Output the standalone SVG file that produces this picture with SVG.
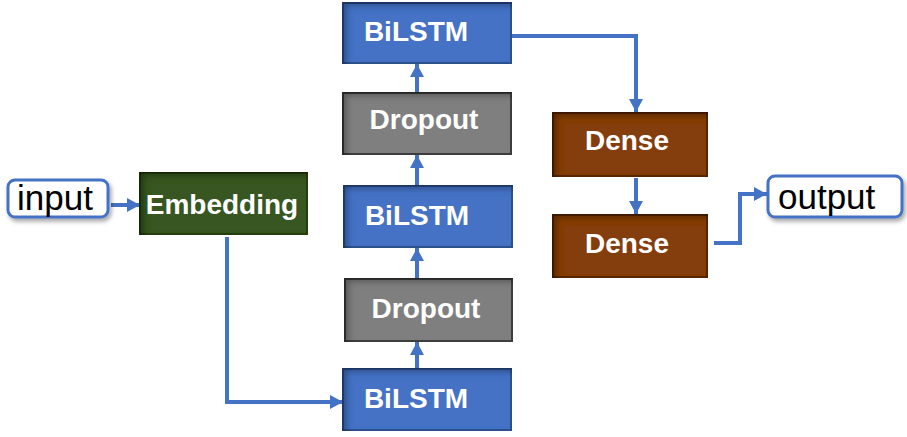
<svg xmlns="http://www.w3.org/2000/svg" width="907" height="437" viewBox="0 0 907 437">
<style>
.lbl{font-family:"Liberation Sans",Arial,sans-serif;font-weight:bold;font-size:28px;fill:#fff;text-anchor:middle}
.io{font-family:"Liberation Sans",Arial,sans-serif;font-size:35px;fill:#000}
.iobox{fill:#fff;stroke:#4472C4;stroke-width:3}
.blue{fill:#4472C4;stroke:#2F528F;stroke-width:2}
.gray{fill:#7F7F7F;stroke:#404040;stroke-width:2}
.brown{fill:#843C0C;stroke:#5A2A08;stroke-width:2}
.green{fill:#375623;stroke:#2A4019;stroke-width:2}
.conn path{fill:none;stroke:#4472C4;stroke-width:4}
</style>
<defs>
<filter id="inset" x="-5%" y="-5%" width="110%" height="110%">
<feGaussianBlur in="SourceAlpha" stdDeviation="3" result="blur"/>
<feOffset in="blur" dx="5" dy="4" result="off"/>
<feComposite in="SourceAlpha" in2="off" operator="out" result="inv"/>
<feFlood flood-color="#000" flood-opacity="0.55"/>
<feComposite in2="inv" operator="in" result="shadow"/>
<feMerge><feMergeNode in="SourceGraphic"/><feMergeNode in="shadow"/></feMerge>
</filter>
<filter id="drop" x="-10%" y="-20%" width="125%" height="150%">
<feDropShadow dx="2" dy="3" stdDeviation="2" flood-color="#000" flood-opacity="0.35"/>
</filter>
<marker id="arr" markerUnits="userSpaceOnUse" markerWidth="14" markerHeight="14" refX="13" refY="7" orient="auto">
<path d="M0,0 L13,7 L0,14 z" fill="#4472C4"/>
</marker>
</defs>
<g class="conn">
<path d="M111,205 H140" marker-end="url(#arr)"/>
<path d="M227,237 V402 H343" marker-end="url(#arr)"/>
<path d="M417,369 V342" marker-end="url(#arr)"/>
<path d="M417,279 V248" marker-end="url(#arr)"/>
<path d="M417,186 V155" marker-end="url(#arr)"/>
<path d="M417,93 V64" marker-end="url(#arr)"/>
<path d="M511,36 H636 V112" marker-end="url(#arr)"/>
<path d="M636,178 V214" marker-end="url(#arr)"/>
<path d="M714,243 H740 V194 H767" marker-end="url(#arr)"/>
</g>
<g id="input">
<rect class="iobox" x="8" y="180" width="100" height="37" rx="7" filter="url(#drop)"/>
<text class="io" x="17" y="210">input</text>
</g>
<g id="embedding">
<rect class="green" x="140" y="173" width="167" height="61" filter="url(#inset)"/>
<text class="lbl" x="222" y="214">Embedding</text>
</g>
<g id="bilstm1">
<rect class="blue" x="343" y="3" width="168" height="60" filter="url(#inset)"/>
<text class="lbl" x="416" y="41">BiLSTM</text>
</g>
<g id="dropout1">
<rect class="gray" x="343" y="93" width="168" height="61" filter="url(#inset)"/>
<text class="lbl" x="424" y="129">Dropout</text>
</g>
<g id="bilstm2">
<rect class="blue" x="344" y="186" width="168" height="61" filter="url(#inset)"/>
<text class="lbl" x="417" y="225">BiLSTM</text>
</g>
<g id="dropout2">
<rect class="gray" x="345" y="279" width="167" height="62" filter="url(#inset)"/>
<text class="lbl" x="426" y="318">Dropout</text>
</g>
<g id="bilstm3">
<rect class="blue" x="343" y="369" width="168" height="61" filter="url(#inset)"/>
<text class="lbl" x="416" y="408">BiLSTM</text>
</g>
<g id="dense1">
<rect class="brown" x="553" y="113" width="154" height="63" filter="url(#inset)"/>
<text class="lbl" x="627" y="150">Dense</text>
</g>
<g id="dense2">
<rect class="brown" x="553" y="215" width="154" height="62" filter="url(#inset)"/>
<text class="lbl" x="627" y="253">Dense</text>
</g>
<g id="output">
<rect class="iobox" x="768" y="176" width="134" height="41" rx="7" filter="url(#drop)"/>
<text class="io" x="778" y="209">output</text>
</g>
</svg>
